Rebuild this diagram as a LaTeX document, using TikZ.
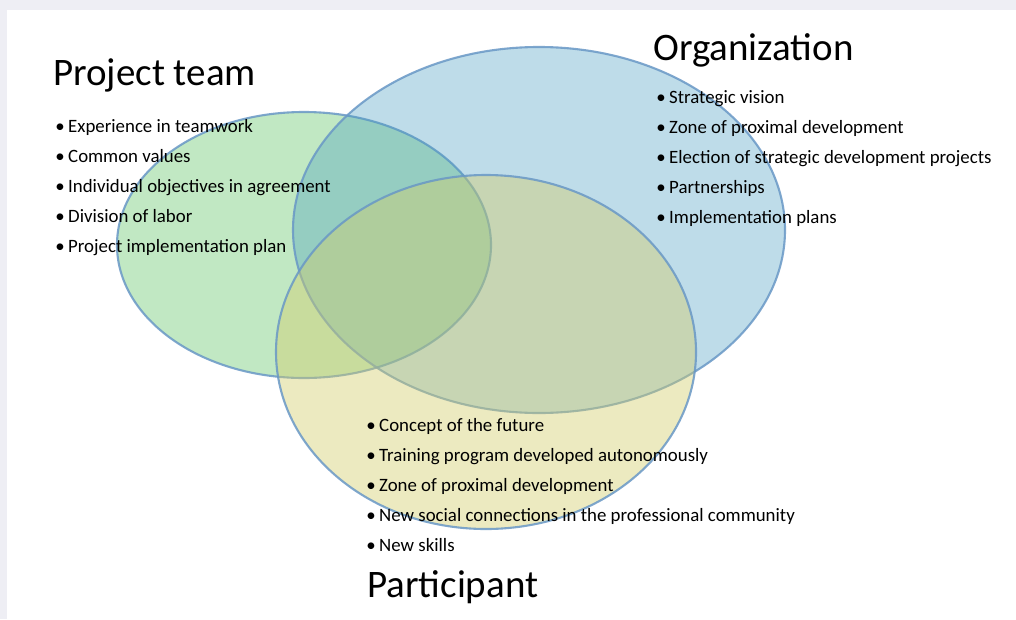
\documentclass[tikz,border=0pt]{standalone}
\usepackage{fontspec}
\setmainfont{Carlito}
\definecolor{framegray}{RGB}{238,238,244}
\definecolor{teamfill}{RGB}{133,211,137}
\definecolor{orgfill}{RGB}{69,155,192}
\definecolor{partfill}{RGB}{212,205,105}
\definecolor{rimblue}{RGB}{105,152,198}
\tikzset{
	set/.style={draw=rimblue, line width=1.5pt, draw opacity=0.85},
	title/.style={anchor=base west, inner sep=0pt, font=\fontsize{27.7}{33}\selectfont},
	item/.style={anchor=base west, inner sep=0pt, font=\fontsize{13.4}{16}\selectfont}
}
\newcommand{\bul}{\makebox[9.2pt][l]{\textbullet}}
\begin{document}
\begin{tikzpicture}[x=0.025cm, y=-0.025cm]
	\fill[framegray] (0, 0) rectangle (1016, 619);
	\fill[white] (7, 10) rectangle (1016, 619);
	\useasboundingbox (0, 0) rectangle (1016, 619);

	% the three sets
	\draw[set, fill=teamfill, fill opacity=0.5] (304, 245) ellipse [x radius=187, y radius=133];
	\draw[set, fill=orgfill, fill opacity=0.35] (539, 230) ellipse [x radius=246, y radius=183];
	\draw[set, fill=partfill, fill opacity=0.42] (486, 352) ellipse [x radius=210, y radius=177];

	% titles
	\node[title] (team) at (53, 85) {Project team};
	\node[title] (org) at (653, 60) {Organization};
	\node[title] (part) at (367, 597) {Participant};

	% lists
	\foreach \txt [count=\i] in {Experience in teamwork, Common values,
		Individual objectives in agreement, Division of labor,
		Project implementation plan}
		\node[item] (team-\i) at (55, 102 + 30*\i) {\bul\txt};
	\foreach \txt [count=\i] in {Strategic vision, Zone of proximal development,
		Election of strategic development projects, Partnerships,
		Implementation plans}
		\node[item] (org-\i) at (656, 73 + 30*\i) {\bul\txt};
	\foreach \txt [count=\i] in {Concept of the future,
		Training program developed autonomously, Zone of proximal development,
		New social connections in the professional community, New skills}
		\node[item] (part-\i) at (366, 401 + 30*\i) {\bul\txt};
\end{tikzpicture}
\end{document}
